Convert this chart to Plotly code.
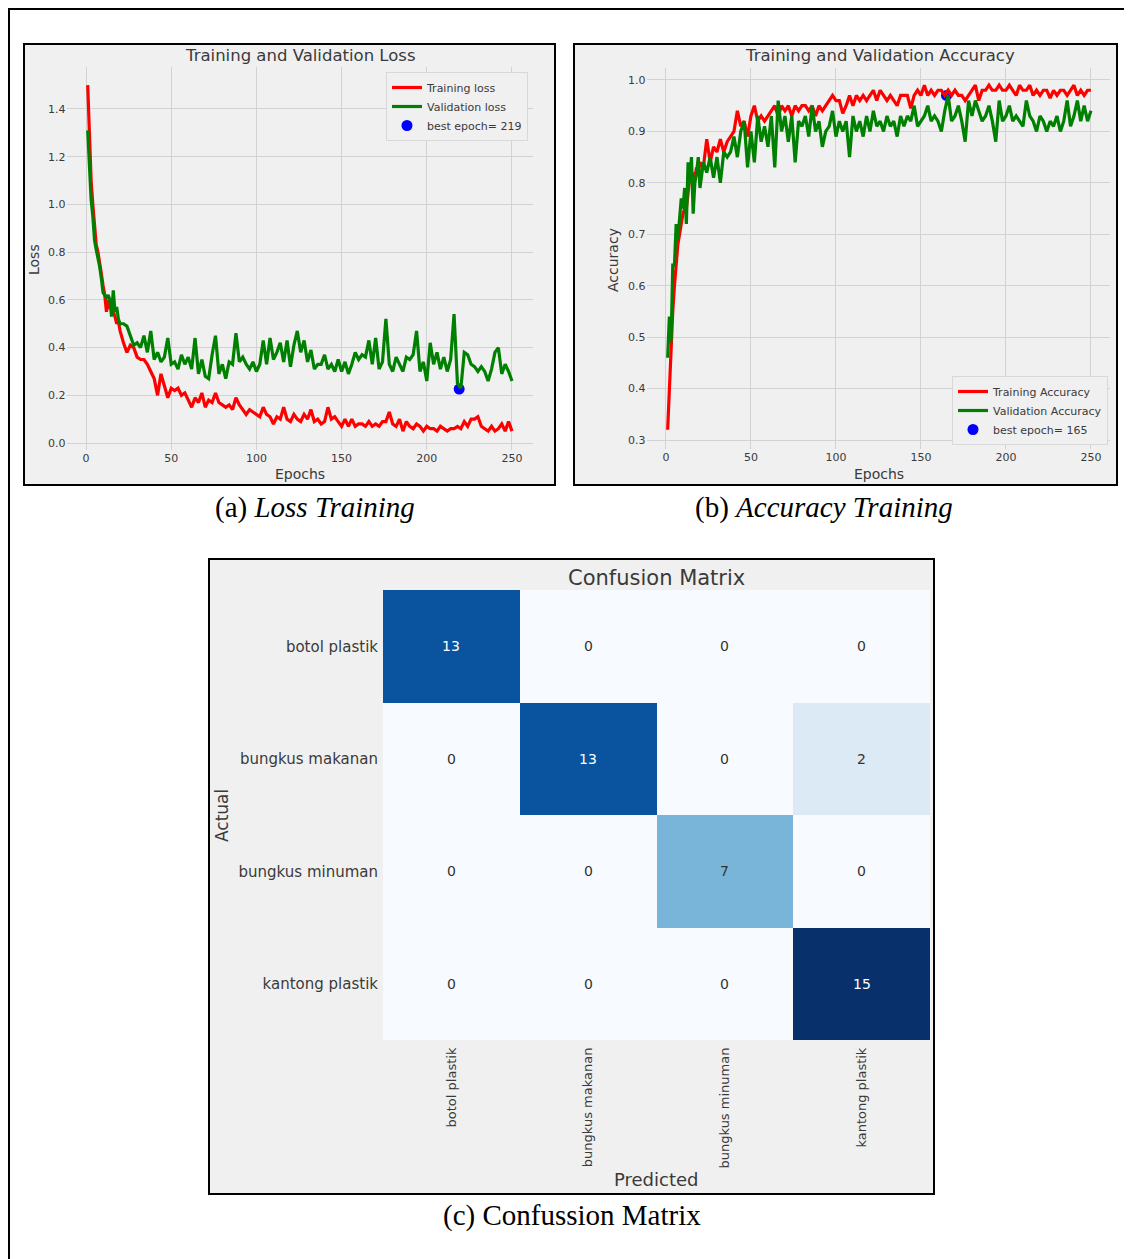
import plotly.graph_objects as go
import plotly.colors as pc

# ---------------- data ----------------
epochs = list(range(1, 21)) + list(range(22, 251, 2))

train_loss = [
    1.50, 1.25, 1.10, 1.00, 0.90, 0.83, 0.80, 0.76, 0.71, 0.66,
    0.62, 0.55, 0.60, 0.57, 0.56, 0.55, 0.53, 0.50, 0.51, 0.47,
    0.42, 0.38, 0.41, 0.40, 0.36, 0.35, 0.35, 0.33, 0.30, 0.27,
    0.20, 0.29, 0.24, 0.19, 0.23, 0.22, 0.23, 0.20, 0.21, 0.18,
    0.15, 0.19, 0.17, 0.21, 0.15, 0.18, 0.17, 0.21, 0.17, 0.16,
    0.15, 0.16, 0.14, 0.19, 0.16, 0.14, 0.12, 0.14, 0.13, 0.12,
    0.11, 0.15, 0.12, 0.11, 0.08, 0.11, 0.10, 0.15, 0.10, 0.09,
    0.12, 0.10, 0.09, 0.12, 0.10, 0.14, 0.09, 0.10, 0.08, 0.09,
    0.15, 0.10, 0.11, 0.09, 0.07, 0.10, 0.07, 0.10, 0.07, 0.08,
    0.08, 0.07, 0.09, 0.07, 0.08, 0.07, 0.09, 0.09, 0.13, 0.08,
    0.07, 0.10, 0.05, 0.09, 0.07, 0.06, 0.08, 0.07, 0.05, 0.07,
    0.06, 0.06, 0.05, 0.07, 0.06, 0.05, 0.06, 0.06, 0.07, 0.06,
    0.09, 0.07, 0.10, 0.10, 0.11, 0.07, 0.06, 0.05, 0.07, 0.05,
    0.06, 0.08, 0.05, 0.09, 0.05,
]

val_loss = [
    1.31, 1.15, 1.02, 0.95, 0.85, 0.81, 0.78, 0.74, 0.69, 0.63,
    0.62, 0.61, 0.62, 0.60, 0.53, 0.64, 0.55, 0.57, 0.52, 0.50,
    0.50, 0.49, 0.45, 0.41, 0.42, 0.40, 0.45, 0.38, 0.47, 0.35,
    0.38, 0.34, 0.36, 0.44, 0.33, 0.34, 0.31, 0.37, 0.33, 0.36,
    0.31, 0.44, 0.29, 0.35, 0.28, 0.27, 0.37, 0.45, 0.29, 0.33,
    0.27, 0.34, 0.33, 0.46, 0.34, 0.36, 0.33, 0.31, 0.34, 0.30,
    0.33, 0.43, 0.33, 0.44, 0.35, 0.38, 0.42, 0.34, 0.43, 0.32,
    0.41, 0.47, 0.38, 0.43, 0.34, 0.39, 0.31, 0.33, 0.33, 0.37,
    0.31, 0.33, 0.30, 0.35, 0.30, 0.34, 0.29, 0.33, 0.38, 0.35,
    0.37, 0.36, 0.43, 0.33, 0.44, 0.31, 0.34, 0.52, 0.33, 0.30,
    0.36, 0.33, 0.30, 0.36, 0.35, 0.37, 0.47, 0.30, 0.34, 0.26,
    0.42, 0.33, 0.38, 0.31, 0.36, 0.30, 0.35, 0.54, 0.25, 0.23,
    0.38, 0.37, 0.33, 0.32, 0.30, 0.32, 0.30, 0.26, 0.31, 0.38,
    0.40, 0.29, 0.33, 0.30, 0.26,
]

train_acc = [
    0.32, 0.40, 0.49, 0.55, 0.60, 0.65, 0.68, 0.70, 0.72, 0.74,
    0.75, 0.75, 0.78, 0.81, 0.80, 0.82, 0.81, 0.83, 0.82, 0.84,
    0.83, 0.885, 0.84, 0.87, 0.86, 0.885, 0.86, 0.88, 0.89, 0.90,
    0.94, 0.91, 0.92, 0.89, 0.93, 0.95, 0.92, 0.93, 0.92, 0.93,
    0.94, 0.95, 0.93, 0.95, 0.94, 0.95, 0.93, 0.95, 0.94, 0.95,
    0.95, 0.94, 0.95, 0.93, 0.95, 0.94, 0.95, 0.96, 0.97, 0.96,
    0.96, 0.935, 0.95, 0.97, 0.95, 0.97, 0.96, 0.97, 0.96, 0.97,
    0.98, 0.96, 0.98, 0.97, 0.96, 0.97, 0.96, 0.95, 0.97, 0.97,
    0.97, 0.945, 0.97, 0.98, 0.97, 0.99, 0.97, 0.98, 0.97, 0.98,
    0.98, 0.97, 0.98, 0.97, 0.98, 0.97, 0.97, 0.96, 0.97, 0.98,
    0.99, 0.96, 0.98, 0.98, 0.99, 0.98, 0.98, 0.99, 0.98, 0.98,
    0.99, 0.98, 0.97, 0.99, 0.98, 0.98, 0.99, 0.97, 0.98, 0.97,
    0.98, 0.98, 0.965, 0.98, 0.97, 0.98, 0.98, 0.97, 0.98, 0.99,
    0.97, 0.98, 0.97, 0.98, 0.98,
]

val_acc = [
    0.46, 0.54, 0.49, 0.64, 0.64, 0.72, 0.69, 0.74, 0.77, 0.75,
    0.79, 0.72, 0.84, 0.80, 0.85, 0.74, 0.80, 0.82, 0.85, 0.79,
    0.84, 0.82, 0.85, 0.81, 0.85, 0.80, 0.86, 0.85, 0.86, 0.89,
    0.85, 0.90, 0.92, 0.83, 0.90, 0.84, 0.93, 0.88, 0.91, 0.87,
    0.93, 0.83, 0.96, 0.90, 0.93, 0.88, 0.93, 0.84, 0.92, 0.91,
    0.93, 0.89, 0.95, 0.90, 0.92, 0.87, 0.90, 0.91, 0.94, 0.89,
    0.92, 0.90, 0.92, 0.85, 0.93, 0.90, 0.92, 0.89, 0.93, 0.90,
    0.94, 0.91, 0.92, 0.90, 0.93, 0.91, 0.92, 0.89, 0.93, 0.91,
    0.93, 0.92, 0.95, 0.91, 0.92, 0.93, 0.95, 0.92, 0.93, 0.92,
    0.90, 0.94, 0.97, 0.92, 0.93, 0.95, 0.92, 0.88, 0.96, 0.93,
    0.96, 0.94, 0.92, 0.93, 0.95, 0.92, 0.88, 0.96, 0.92, 0.93,
    0.95, 0.92, 0.93, 0.92, 0.91, 0.96, 0.93, 0.92, 0.90, 0.93,
    0.92, 0.90, 0.92, 0.91, 0.93, 0.90, 0.92, 0.96, 0.91, 0.93,
    0.96, 0.92, 0.95, 0.92, 0.94,
]

best_loss_epoch, best_loss = 219, 0.226
best_acc_epoch, best_acc = 165, 0.97

classes = ["botol plastik", "bungkus makanan", "bungkus minuman", "kantong plastik"]
cm = [
    [13, 0, 0, 0],
    [0, 13, 0, 2],
    [0, 0, 7, 0],
    [0, 0, 0, 15],
]

loss_ticks = [0.0, 0.2, 0.4, 0.6, 0.8, 1.0, 1.2, 1.4]
acc_ticks = [0.3, 0.4, 0.5, 0.6, 0.7, 0.8, 0.9, 1.0]
epoch_ticks = [0, 50, 100, 150, 200, 250]

# ---------------- layout helpers ----------------
W, H = 1132, 1259
OFF = 8  # page body margin


def X(p):
    return (p - OFF) / W


def Y(p):
    return 1 - (p - OFF) / H


TXT = "#3a3a3a"
GRID = "#d2d2d2"
BG = "#f0f0f0"
FONT = "DejaVu Sans"

fig = go.Figure()

# Loss chart (marker first so lines sit on top, as in the reference)
fig.add_trace(go.Scatter(x=[best_loss_epoch], y=[best_loss], mode="markers",
                         name="best epoch= %d" % best_loss_epoch,
                         marker=dict(color="blue", size=11), xaxis="x", yaxis="y",
                         legend="legend", legendrank=3))
fig.add_trace(go.Scatter(x=epochs, y=train_loss, mode="lines", name="Training loss",
                         line=dict(color="red", width=3.2), xaxis="x", yaxis="y",
                         legend="legend", legendrank=1))
fig.add_trace(go.Scatter(x=epochs, y=val_loss, mode="lines", name="Validation loss",
                         line=dict(color="green", width=3.2), xaxis="x", yaxis="y",
                         legend="legend", legendrank=2))

# Accuracy chart
fig.add_trace(go.Scatter(x=[best_acc_epoch], y=[best_acc], mode="markers",
                         name="best epoch= %d" % best_acc_epoch,
                         marker=dict(color="blue", size=11), xaxis="x2", yaxis="y2",
                         legend="legend2", legendrank=3))
fig.add_trace(go.Scatter(x=epochs, y=train_acc, mode="lines", name="Training Accuracy",
                         line=dict(color="red", width=3.2), xaxis="x2", yaxis="y2",
                         legend="legend2", legendrank=1))
fig.add_trace(go.Scatter(x=epochs, y=val_acc, mode="lines", name="Validation Accuracy",
                         line=dict(color="green", width=3.2), xaxis="x2", yaxis="y2",
                         legend="legend2", legendrank=2))

# Confusion matrix
blues = pc.sequential.Blues
scale = [[i / (len(blues) - 1), c] for i, c in enumerate(blues)]
fig.add_trace(go.Heatmap(z=cm, x=classes, y=classes, colorscale=scale, zmin=0, zmax=15,
                         showscale=False, xaxis="x3", yaxis="y3", hoverinfo="skip"))

zmax = max(max(r) for r in cm)
annotations = []
for i, row in enumerate(cm):
    for j, v in enumerate(row):
        annotations.append(dict(x=classes[j], y=classes[i], xref="x3", yref="y3", text=str(v),
                                showarrow=False,
                                font=dict(size=14, family=FONT,
                                          color="white" if v > zmax / 2 else "#333333")))


def ann(x, y, text, size, angle=0, family=FONT, color=TXT, xanchor="center"):
    annotations.append(dict(x=X(x), y=Y(y), xref="paper", yref="paper", text=text,
                            showarrow=False, textangle=angle, xanchor=xanchor, yanchor="middle",
                            font=dict(size=size, family=family, color=color)))


ann(300, 56, "Training and Validation Loss", 16.5)
ann(880, 56, "Training and Validation Accuracy", 16.5)
ann(300, 474, "Epochs", 14)
ann(879, 474, "Epochs", 14)
ann(34, 260, "Loss", 14, angle=-90)
ann(613, 260, "Accuracy", 14, angle=-90)
ann(656, 578, "Confusion Matrix", 21)
ann(222, 816, "Actual", 17, angle=-90)
ann(656, 1179, "Predicted", 18)
ann(315, 507, "(a) <i>Loss Training</i>", 29, family="Liberation Serif", color="black")
ann(824, 507, "(b) <i>Accuracy Training</i>", 29, family="Liberation Serif", color="black")
ann(572, 1215, "(c) Confussion Matrix", 29, family="Liberation Serif", color="black")

# frames
shapes = []


def box(x0, y0, x1, y1, fill=None, width=2):
    shapes.append(dict(type="rect", xref="paper", yref="paper", x0=X(x0), x1=X(x1),
                       y0=Y(y1), y1=Y(y0), line=dict(color="black", width=width),
                       fillcolor=fill if fill else "rgba(0,0,0,0)", layer="below"))


box(9, 9, 1150, 1280, width=2)
box(24, 44, 555, 485, fill=BG)
box(574, 44, 1117, 485, fill=BG)
box(209, 559, 934, 1194, fill=BG)

common_line = dict(showgrid=True, gridcolor=GRID, gridwidth=1.3, zeroline=False, showline=False,
                   ticks="", tickfont=dict(size=11, family=FONT, color=TXT))

fig.update_layout(
    width=W, height=H, margin=dict(l=0, r=0, t=0, b=0),
    paper_bgcolor="white", plot_bgcolor=BG,
    font=dict(family=FONT, color=TXT),
    showlegend=True,
    xaxis=dict(domain=[X(66.5), X(533.2)], range=[-11.45, 262.45], tickvals=epoch_ticks,
               anchor="y", **common_line),
    yaxis=dict(domain=[Y(450.2), Y(67.2)], range=[-0.03, 1.575], tickvals=loss_ticks,
               tickformat=".1f", anchor="x", **common_line),
    xaxis2=dict(domain=[X(646.5), X(1110)], range=[-11.45, 261.2], tickvals=epoch_ticks,
                anchor="y2", **common_line),
    yaxis2=dict(domain=[Y(449.1), Y(67.8)], range=[0.2823, 1.0237], tickvals=acc_ticks,
                tickformat=".1f", anchor="x2", **common_line),
    xaxis3=dict(domain=[X(383), X(930)], anchor="y3", showgrid=False, zeroline=False,
                showline=False, ticks="", tickangle=-90, ticklabelstandoff=4,
                tickfont=dict(size=13, family=FONT, color=TXT)),
    yaxis3=dict(domain=[Y(1040), Y(590)], anchor="x3", showgrid=False, zeroline=False,
                showline=False, ticks="", autorange="reversed", ticklabelstandoff=4,
                tickfont=dict(size=15, family=FONT, color=TXT)),
    legend=dict(x=X(528), y=Y(72), xanchor="right", yanchor="top", bgcolor=BG,
                bordercolor="#d8d8d8", borderwidth=1, font=dict(size=11, family=FONT, color=TXT),
                itemwidth=30, tracegroupgap=0),
    legend2=dict(x=X(1108), y=Y(445), xanchor="right", yanchor="bottom", bgcolor=BG,
                 bordercolor="#d8d8d8", borderwidth=1, font=dict(size=11, family=FONT, color=TXT),
                 itemwidth=30, tracegroupgap=0),
    annotations=annotations,
    shapes=shapes,
)

fig.write_html("out.html")
